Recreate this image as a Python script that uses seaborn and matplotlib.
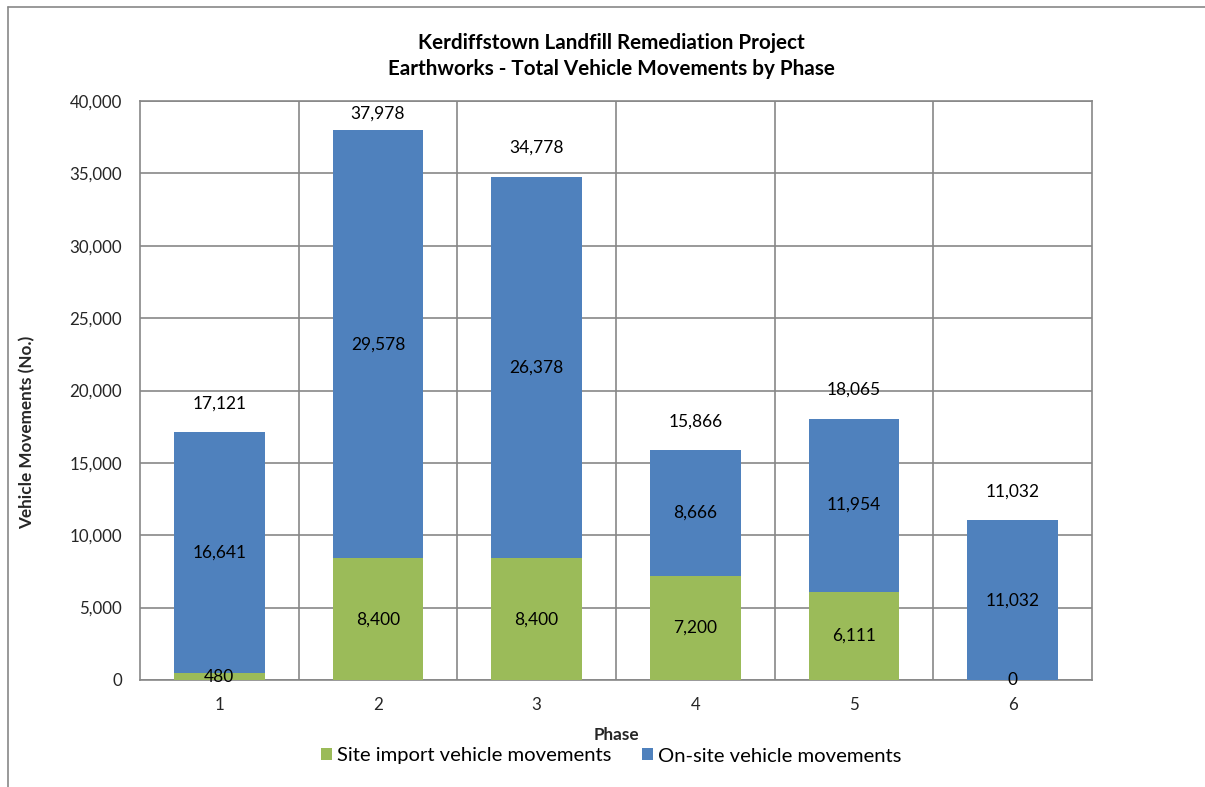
import matplotlib
matplotlib.use("Agg")
import matplotlib.pyplot as plt
from matplotlib.lines import Line2D
from matplotlib.patches import Patch
import seaborn as sns
import numpy as np

# Vehicle movements per earthworks phase
phases = ["1", "2", "3", "4", "5", "6"]
site_import = [480, 8400, 8400, 7200, 6111, 0]
on_site = [16641, 29578, 26378, 8666, 11954, 11032]
totals = [17121, 37978, 34778, 15866, 18065, 11032]

GREEN = "#9BBB59"
BLUE = "#4F81BD"
GRID = "#878787"
FONT = ["Lato", "DejaVu Sans"]

sns.set_theme(style="white")
plt.rcParams["font.family"] = FONT
plt.rcParams["text.color"] = "black"

fig = plt.figure(figsize=(12.05, 7.87), dpi=100)
ax = fig.add_axes([140 / 1205, 1 - 680 / 787, (1092 - 140) / 1205, (680 - 101) / 787])

# Stacked columns: full-height on-site bar first, import portion drawn over its base
sns.barplot(x=phases, y=totals, color=BLUE, saturation=1, width=0.57, ax=ax,
            linewidth=0, edgecolor="none", zorder=3)
sns.barplot(x=phases, y=site_import, color=GREEN, saturation=1, width=0.57, ax=ax,
            linewidth=0, edgecolor="none", zorder=4)

ax.set_xlim(-0.5, len(phases) - 0.5)
ax.set_ylim(0, 40000)
ax.set_yticks(np.arange(0, 40001, 5000))
ax.set_yticklabels([f"{v:,}" for v in range(0, 40001, 5000)], fontsize=12.2)
ax.set_xticks(range(len(phases)))
ax.set_xticklabels(phases, fontsize=12.2)
ax.set_xticks(np.arange(0.5, len(phases) - 0.5, 1), minor=True)
ax.tick_params(axis="y", which="both", length=0, pad=13)
ax.tick_params(axis="x", which="both", length=0, pad=12)

ax.grid(axis="y", which="major", color=GRID, linewidth=1.2, zorder=1)
ax.grid(axis="x", which="minor", color=GRID, linewidth=1.2, zorder=1)
ax.grid(axis="x", which="major", visible=False)
ax.set_axisbelow(True)
for side in ["left", "right", "top", "bottom"]:
    ax.spines[side].set_visible(True)
    ax.spines[side].set_color(GRID)
    ax.spines[side].set_linewidth(1.2)

# Segment labels in the middle of each stacked piece
for i in range(len(phases)):
    ax.text(i, site_import[i] / 2, f"{site_import[i]:,}", ha="center", va="center",
            fontsize=12.5, zorder=6)
    ax.text(i, site_import[i] + on_site[i] / 2, f"{on_site[i]:,}", ha="center",
            va="center", fontsize=12.5, zorder=6)
    # Totals above each column, kept inside the plot area
    ty = min(totals[i] + 2000, 39100)
    ax.text(i, ty, f"{totals[i]:,}", ha="center", va="center", fontsize=12.5, zorder=6)

ax.set_xlabel("Phase", fontsize=12.3, fontweight="bold", labelpad=10)
ax.set_ylabel("Vehicle Movements (No.)", fontsize=12.3, fontweight="bold")
ax.yaxis.set_label_coords(-0.110, 0.428)

fig.text(611 / 1205, 1 - 56 / 787,
         "Kerdiffstown Landfill Remediation Project\nEarthworks - Total Vehicle Movements by Phase",
         ha="center", va="center", fontsize=14.9, fontweight="bold", linespacing=1.35)

handles = [Patch(facecolor=GREEN, edgecolor="none"), Patch(facecolor=BLUE, edgecolor="none")]
fig.legend(handles, ["Site import vehicle movements", "On-site vehicle movements"],
           loc="center", bbox_to_anchor=(611 / 1205, 1 - 756 / 787), ncol=2, frameon=False,
           fontsize=14.6, handlelength=0.55, handleheight=0.55, handletextpad=0.25,
           columnspacing=1.5)

# Outer chart frame
fig.add_artist(Line2D([8 / 1205, 8 / 1205], [0, 1 - 7 / 787], transform=fig.transFigure,
                      color=GRID, linewidth=1.2))
fig.add_artist(Line2D([8 / 1205, 1], [1 - 7 / 787, 1 - 7 / 787], transform=fig.transFigure,
                      color=GRID, linewidth=1.2))

fig.savefig("out.png", dpi=100, facecolor="white")
